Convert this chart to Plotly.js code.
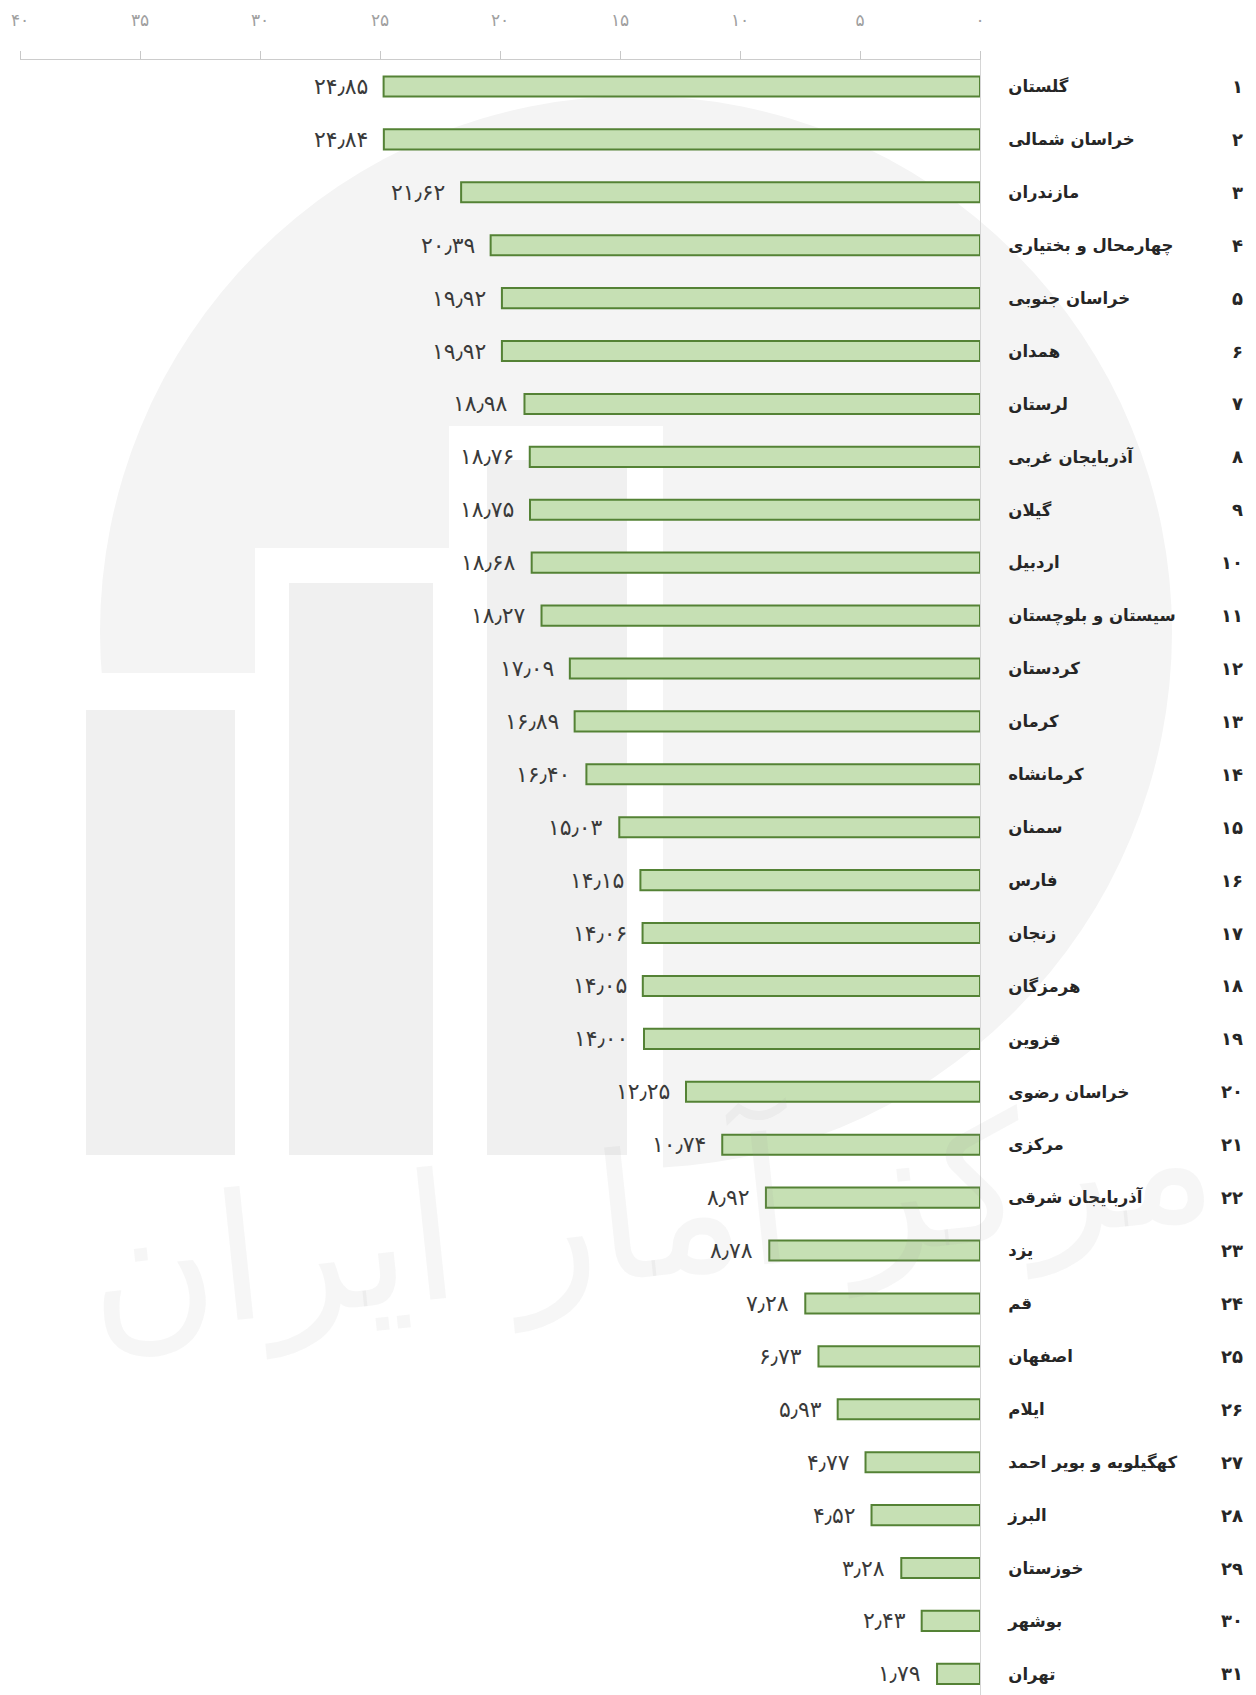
<!DOCTYPE html>
<html>
<head>
<meta charset="utf-8">
<script src="https://cdn.plot.ly/plotly-3.0.1.min.js"></script>
<style>html,body{margin:0;padding:0;background:#fff;}#chart{width:1256px;height:1695px;}</style>
</head>
<body>
<div id="chart"></div>
<script>
const provinces = ["گلستان","خراسان شمالی","مازندران","چهارمحال و بختیاری","خراسان جنوبی","همدان","لرستان","آذربایجان غربی","گیلان","اردبیل","سیستان و بلوچستان","کردستان","کرمان","کرمانشاه","سمنان","فارس","زنجان","هرمزگان","قزوین","خراسان رضوی","مرکزی","آذربایجان شرقی","یزد","قم","اصفهان","ایلام","کهگیلویه و بویر احمد","البرز","خوزستان","بوشهر","تهران"];
const values = [24.85,24.84,21.62,20.39,19.92,19.92,18.98,18.76,18.75,18.68,18.27,17.09,16.89,16.40,15.03,14.15,14.06,14.05,14.00,12.25,10.74,8.92,8.78,7.28,6.73,5.93,4.77,4.52,3.28,2.43,1.79];
const ranks = provinces.map((_, i) => i + 1);
const xTickVals = [0,5,10,15,20,25,30,35,40];

const faDigits = "۰۱۲۳۴۵۶۷۸۹";
function toFa(s){ return String(s).replace(/[0-9]/g, d => faDigits[+d]).replace(/\./g, "٫"); }

const W = 1256, H = 1695;
const M = {l:20, r:276, t:60, b:0};
const PW = W - M.l - M.r, PH = H - M.t - M.b;
const px = x => (x - M.l) / PW;
const py = y => 1 - (y - M.t) / PH;

// decorative watermark (logo) shapes, in page pixels converted to paper
const shapes = [];
function rect(x0,y0,x1,y1,color,layer){ shapes.push({type:'rect',xref:'paper',yref:'paper',x0:px(x0),x1:px(x1),y0:py(y1),y1:py(y0),fillcolor:color,line:{width:0},layer:layer||'below'}); }
shapes.push({type:'circle',xref:'paper',yref:'paper',x0:px(100),x1:px(1172),y0:py(1168),y1:py(96),fillcolor:'#f4f4f4',line:{width:0},layer:'below'});
rect(55,673,262,1200,'#ffffff');
rect(255,548,456,1200,'#ffffff');
rect(449,426,663,1200,'#ffffff');
rect(86,710,235,1155,'#f0f0f0');
rect(289,583,433,1155,'#f0f0f0');
rect(487,460,627,1155,'#f0f0f0');

const annotations = [];
// watermark calligraphy text
annotations.push({xref:'paper',yref:'paper',x:px(650),y:py(1380),text:'مرکز آمار ایران',showarrow:false,
  font:{family:'DejaVu Sans',size:175,color:'rgba(150,150,150,0.09)'},textangle:-6});

provinces.forEach((p,i)=>{
  annotations.push({x:values[i],y:p,xref:'x',yref:'y',text:toFa(values[i].toFixed(2)),showarrow:false,
    xanchor:'right',xshift:-14,font:{family:'DejaVu Sans',size:22,color:'#3a3a3a'}});
  annotations.push({x:px(1245),y:p,xref:'paper',yref:'y',text:toFa(ranks[i]),showarrow:false,
    xanchor:'right',font:{family:'DejaVu Sans',size:18,color:'#262626',weight:'bold'}});
});

const trace = {
  type:'bar', orientation:'h', x:values, y:provinces, width:0.38,
  marker:{color:'#c6e0b4', line:{color:'#548235', width:2}},
  hoverinfo:'x+y'
};

const layout = {
  width:W, height:H, margin:M,
  paper_bgcolor:'#ffffff', plot_bgcolor:'rgba(0,0,0,0)',
  showlegend:false,
  font:{family:'DejaVu Sans'},
  xaxis:{range:[40,0], side:'top', tickvals:xTickVals, ticktext:xTickVals.map(toFa),
    tickfont:{size:17,color:'#a0a0a0'}, ticks:'outside', ticklen:8, tickcolor:'#c8c8c8',
    showline:true, linecolor:'#cccccc', linewidth:1, showgrid:false, zeroline:false, ticklabelstandoff:18, fixedrange:true},
  yaxis:{type:'category', categoryorder:'array', categoryarray:provinces, range:[30.4,-0.5], side:'right',
    showline:true, linecolor:'#d6d6d6', linewidth:1, ticks:'', showgrid:false, zeroline:false,
    tickfont:{size:16.5,color:'#262626',weight:'bold'}, ticklabelstandoff:24, fixedrange:true},
  shapes:shapes, annotations:annotations
};

Plotly.newPlot('chart',[trace],layout,{displayModeBar:false, staticPlot:true});
</script>
</body>
</html>
